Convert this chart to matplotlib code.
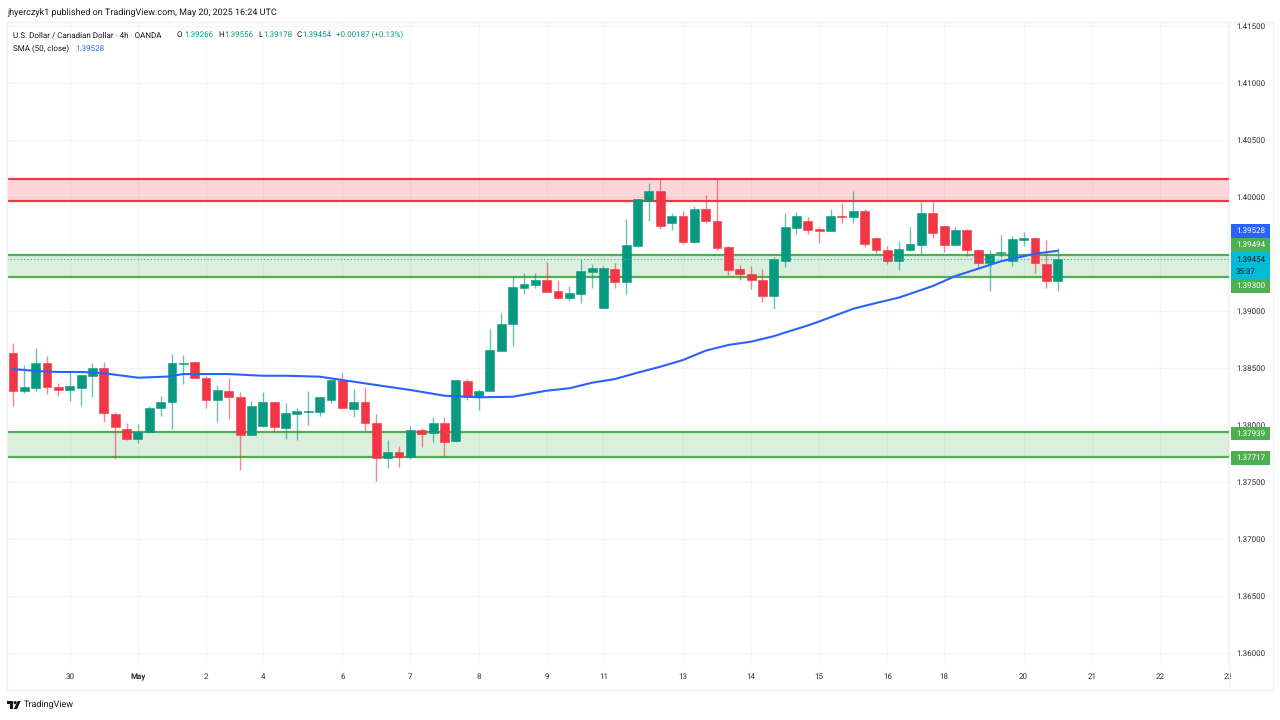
import numpy as np
import matplotlib
matplotlib.use("Agg")
import matplotlib.pyplot as plt
from matplotlib import font_manager as fm
from matplotlib.patches import Rectangle, Polygon, Circle
from matplotlib.transforms import Bbox, TransformedBbox, IdentityTransform

opens = [1.38629,1.38298,1.38327,1.38541,1.38333,1.38304,1.38327,1.38432,1.38500,1.38099,
1.37965,1.37875,1.37941,1.38149,1.38202,1.38535,1.38555,1.38412,1.38217,1.38301,
1.38243,1.37912,1.37991,1.38199,1.37976,1.38096,1.38117,1.38117,1.38217,1.38392,
1.38140,1.38204,1.38020,1.37711,1.37766,1.37717,1.37954,1.37932,1.38020,1.37860,
1.38383,1.38252,1.38298,1.38652,1.38886,1.39204,1.39225,1.39269,1.39173,1.39114,
1.39152,1.39342,1.39024,1.39371,1.39254,1.39573,1.39974,1.40055,1.39769,1.39831,
1.39605,1.39892,1.39792,1.39559,1.39371,1.39327,1.39275,1.39129,1.39441,1.39731,
1.39787,1.39717,1.39699,1.39833,1.39822,1.39875,1.39643,1.39535,1.39436,1.39538,
1.39582,1.39862,1.39743,1.39582,1.39711,1.39535,1.39421,1.39506,1.39436,1.39620,
1.39638,1.39415,1.39266]
closes = [1.38298,1.38333,1.38541,1.38333,1.38304,1.38339,1.38436,1.38500,1.38105,1.37980,
1.37875,1.37941,1.38152,1.38199,1.38541,1.38544,1.38410,1.38217,1.38310,1.38246,
1.37912,1.38167,1.38199,1.37980,1.38103,1.38123,1.38125,1.38243,1.38392,1.38149,
1.38199,1.38015,1.37713,1.37760,1.37717,1.37954,1.37921,1.38020,1.37851,1.38392,
1.38248,1.38298,1.38658,1.38889,1.39208,1.39237,1.39269,1.39167,1.39114,1.39158,
1.39348,1.39380,1.39375,1.39254,1.39579,1.39980,1.40055,1.39746,1.39831,1.39605,
1.39892,1.39792,1.39553,1.39360,1.39322,1.39272,1.39129,1.39454,1.39734,1.39831,
1.39711,1.39704,1.39831,1.39825,1.39875,1.39590,1.39532,1.39436,1.39541,1.39585,
1.39862,1.39682,1.39582,1.39713,1.39532,1.39421,1.39503,1.39518,1.39629,1.39640,
1.39418,1.39266,1.39454]
highs = [1.38717,1.38526,1.38673,1.38605,1.38368,1.38462,1.38436,1.38541,1.38555,1.38117,
1.38015,1.38006,1.38169,1.38254,1.38623,1.38614,1.38555,1.38430,1.38348,1.38412,
1.38289,1.38208,1.38292,1.38199,1.38190,1.38152,1.38301,1.38248,1.38392,1.38454,
1.38313,1.38331,1.38094,1.37868,1.37813,1.37991,1.37974,1.38068,1.38068,1.38392,
1.38401,1.38316,1.38842,1.38985,1.39307,1.39336,1.39331,1.39430,1.39269,1.39222,
1.39454,1.39410,1.39395,1.39418,1.39810,1.39980,1.40120,1.40158,1.39862,1.39875,
1.39921,1.40018,1.40158,1.39570,1.39404,1.39395,1.39368,1.39471,1.39857,1.39871,
1.39822,1.39734,1.39895,1.39947,1.40050,1.39892,1.39646,1.39573,1.39611,1.39737,
1.39959,1.39959,1.39746,1.39739,1.39717,1.39541,1.39535,1.39664,1.39658,1.39693,
1.39649,1.39620,1.39556]
lows = [1.38169,1.38283,1.38298,1.38275,1.38254,1.38208,1.38169,1.38246,1.38029,1.37704,
1.37868,1.37845,1.37941,1.38079,1.37962,1.38357,1.38410,1.38146,1.38029,1.38050,
1.37605,1.37912,1.37980,1.37941,1.37880,1.37866,1.38000,1.38079,1.38196,1.38146,
1.38070,1.37945,1.37509,1.37625,1.37634,1.37704,1.37810,1.37851,1.37728,1.37851,
1.38219,1.38132,1.38298,1.38652,1.38693,1.39149,1.39204,1.39167,1.39105,1.39088,
1.39070,1.39204,1.39024,1.39204,1.39152,1.39559,1.39792,1.39722,1.39711,1.39585,
1.39599,1.39775,1.39535,1.39313,1.39269,1.39196,1.39076,1.39020,1.39389,1.39673,
1.39678,1.39599,1.39699,1.39775,1.39775,1.39561,1.39506,1.39412,1.39360,1.39529,
1.39500,1.39640,1.39520,1.39582,1.39485,1.39389,1.39178,1.39471,1.39395,1.39573,
1.39331,1.39204,1.39178]

sma_bars = [0,2,4,6,8,11,13.5,15,19,22,24,27,30,33,35,38,41,44,47,49,51,53,55,57,59,61,63,65,67,68,70,71,74,76,78,81,83,85,87,90,92]
sma_vals = [1.38491,1.38474,1.38465,1.38465,1.38454,1.38415,1.38424,1.38447,1.38447,1.38432,
1.38432,1.38424,1.38380,1.38336,1.38307,1.38257,1.38243,1.38248,1.38301,1.38322,
1.38371,1.38403,1.38459,1.38511,1.38570,1.38652,1.38702,1.38731,1.38779,1.38811,
1.38873,1.38908,1.39020,1.39070,1.39117,1.39219,1.39307,1.39371,1.39436,1.39503,1.39528]

date_bars = [5,11,17,22,29,35,41,47,52,59,65,71,77,82,89,95,101,107]
date_labels = ["30","May","2","4","6","7","8","9","11","13","14","15","16","18","20","21","22","23"]
price_ticks = [1.36,1.365,1.37,1.375,1.38,1.385,1.39,1.395,1.40,1.405,1.41,1.415]
hidden_ticks = [1.395]
red_zone = (1.39969,1.40162)
green_zone_top = (1.39300,1.39494)
green_zone_low = (1.37717,1.37939)

GREEN = "#089981"; RED = "#F23645"; BLUE = "#2962FF"; ZONE_G = "#4CAF50"; CYAN = "#00BCD4"
TXT = "#2A2E39"

names = {f.name for f in fm.fontManager.ttflist}
narrow = "Liberation Sans Narrow" in names
plt.rcParams["font.family"] = ["Liberation Sans Narrow", "Roboto"] if narrow else ["Roboto"]
plt.rcParams["text.hinting"] = "no_hinting"
plt.rcParams["text.hinting_factor"] = 1

W, H = 1280, 720
fig = plt.figure(figsize=(12.8, 7.2), dpi=100, facecolor="white")
renderer = fig.canvas.get_renderer()

def fit_size(s, target):
    """Font size whose rendered width is closest to target px, preferring a size near 7.8pt."""
    t = fig.text(0, 0, s)
    rows = []
    for fs in np.arange(6.0, 9.01, 0.05):
        t.set_fontsize(float(fs))
        rows.append((float(fs), t.get_window_extent(renderer).width))
    t.remove()
    close = [r for r in rows if abs(r[1]-target) <= max(1.0, 0.02*target)]
    if close:
        return min(close, key=lambda r: abs(r[0]-7.8))[0]
    return min(rows, key=lambda r: abs(r[1]-target))[0]

FS = fit_size("1.41500", 28.5)
FS_VAL = fit_size("1.39266", 29)
FS_HEAD = fit_size("jhyerczyk1 published on TradingView.com, May 20, 2025 16:24 UTC", 256)
FS_NAME = fit_size("U.S. Dollar / Canadian Dollar · 4h · OANDA", 155)
FS_CHG = fit_size("+0.00187 (+0.13%)", 68)
FS_SMA = fit_size("SMA (50, close)", 57)
FS_LOGO = fit_size("TradingView", 49)

L, R, T, B = 7, 1229, 22, 665
ax = fig.add_axes([L/W, 1-B/H, (R-L)/W, (B-T)/H])
STEP = 11.355
ax.set_xlim((L-13)/STEP, (R-13)/STEP)
price_of = lambda y: 1.40-(y-197)/11400
ax.set_ylim(price_of(B), price_of(T))
for s in ax.spines.values():
    s.set_visible(False)

ax.set_axisbelow(True)
ax.grid(True, color="#F3F6F8", lw=0.8)
ax.yaxis.tick_right()
ax.set_yticks(price_ticks)
ax.set_yticklabels(["" if p in hidden_ticks else f"{p:.5f}" for p in price_ticks], fontsize=FS, color=TXT)
ax.tick_params(axis="y", length=0, pad=5.5)
ax.set_xticks(date_bars)
ax.set_xticklabels(date_labels, fontsize=FS, color=TXT)
ax.tick_params(axis="x", length=0, pad=6.0)
clip = TransformedBbox(Bbox([[0, 0], [1231, H]]), IdentityTransform())
for t, lab in zip(ax.get_xticklabels(), date_labels):
    if lab == "May":
        t.set_fontweight("bold")
    if lab == "23":
        t.set_clip_on(True)
        t.set_clip_box(clip)

for (a, b), col in ((red_zone, RED), (green_zone_top, ZONE_G), (green_zone_low, ZONE_G)):
    ax.axhspan(a, b, facecolor=col, alpha=0.2, lw=0, zorder=1)
    ax.axhline(a, color=col, lw=1.6, zorder=1.5)
    ax.axhline(b, color=col, lw=1.6, zorder=1.5)

idx = np.arange(len(opens))
o, c, hi, lo = map(np.array, (opens, closes, highs, lows))
cols = [GREEN if cc >= oo else RED for oo, cc in zip(o, c)]
ax.vlines(idx, lo, hi, colors=cols, lw=1.0, alpha=0.6, zorder=2)
ax.bar(idx, np.abs(c-o), bottom=np.minimum(o, c), width=0.78, color=cols,
       edgecolor=cols, lw=0.4, zorder=3)
ax.axhline(closes[-1], color="#22B5C4", lw=0.8, ls=(0, (1, 2)), zorder=3.5)
ax.plot(sma_bars, sma_vals, color=BLUE, lw=1.5, zorder=4, solid_capstyle="round")

ov = fig.add_axes([0, 0, 1, 1], zorder=10)
ov.set_xlim(0, W); ov.set_ylim(H, 0); ov.axis("off"); ov.patch.set_alpha(0)
ov.add_patch(Rectangle((L, T), 1273-L, 690-T, fill=False, ec="#EEF0F3", lw=0.9))
ov.plot([R, R], [T, 690], color="#F2F3F6", lw=0.8)

def label(top, bottom, col, lines):
    ov.add_patch(Rectangle((1231, top), 39, bottom-top, fc=col, ec="none"))
    tcol = "#131722" if col == CYAN else "white"
    if len(lines) == 1:
        ov.text(1236.5, (top+bottom)/2, lines[0], color=tcol, fontsize=FS, va="center", ha="left")
    else:
        ov.text(1236, top+7, lines[0], color=tcol, fontsize=FS, va="center", ha="left")
        ov.text(1236, top+19, lines[1], color=tcol, fontsize=FS, va="center", ha="left")

label(223.5, 237.7, BLUE, ["1.39528"])
label(237.7, 252.3, ZONE_G, ["1.39494"])
label(252.3, 279, CYAN, ["1.39454", "35:37"])
label(279, 292.8, ZONE_G, ["1.39300"])
label(426.5, 440, ZONE_G, ["1.37939"])
label(451, 465, ZONE_G, ["1.37717"])

HC = "#131722"
ov.text(7, 13, "jhyerczyk1 published on TradingView.com, May 20, 2025 16:24 UTC", fontsize=FS_HEAD, color=HC, va="center")
ov.text(13, 35, "U.S. Dollar / Canadian Dollar · 4h · OANDA", fontsize=FS_NAME, color=HC, va="center")
for x, s, col, fs in ((177, "O", HC, FS_VAL), (184, "1.39266", GREEN, FS_VAL), (218, "H", HC, FS_VAL), (224, "1.39556", GREEN, FS_VAL),
                      (258, "L", HC, FS_VAL), (263, "1.39178", GREEN, FS_VAL), (297, "C", HC, FS_VAL), (302, "1.39454", GREEN, FS_VAL),
                      (336, "+0.00187 (+0.13%)", GREEN, FS_CHG)):
    ov.text(x, 35, s, fontsize=fs, color=col, va="center")
ov.text(13, 49, "SMA (50, close)", fontsize=FS_SMA, color=HC, va="center")
ov.text(75, 49, "1.39528", fontsize=FS_VAL, color=BLUE, va="center")

ov.add_patch(Polygon([(7, 701), (13.4, 701), (13.4, 709), (10, 709), (10, 704), (7, 704)], fc=HC, ec="none"))
ov.add_patch(Circle((15.1, 702.6), 1.6, fc=HC, ec="none"))
ov.add_patch(Polygon([(17.6, 701), (20.8, 701), (17, 709), (13.8, 709)], fc=HC, ec="none"))
ov.text(24, 705, "TradingView", fontsize=FS_LOGO, color=HC, va="center")

fig.savefig("out.png", dpi=100)
